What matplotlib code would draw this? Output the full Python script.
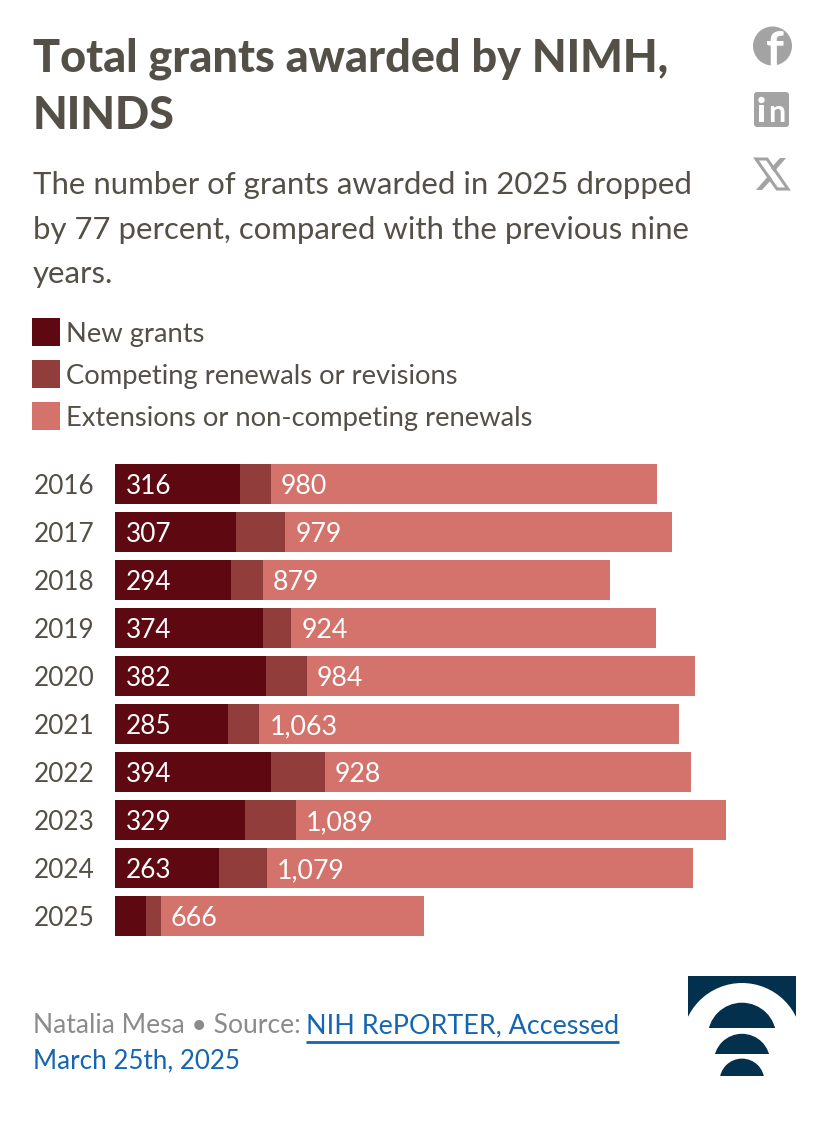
import matplotlib
matplotlib.use("Agg")
import matplotlib.pyplot as plt
from matplotlib.patches import Rectangle, Circle, FancyBboxPatch, Polygon

plt.rcParams['font.family'] = ['Lato', 'DejaVu Sans']

W, H = 828, 1138

years = ["2016", "2017", "2018", "2019", "2020", "2021", "2022", "2023", "2024", "2025"]
new_grants = [316, 307, 294, 374, 382, 285, 394, 329, 263, 78]
competing = [78, 124, 81, 73, 104, 81, 137, 129, 121, 38]
extensions = [980, 979, 879, 924, 984, 1063, 928, 1089, 1079, 666]

series_names = ["New grants", "Competing renewals or revisions", "Extensions or non-competing renewals"]
series_colors = ["#5e0812", "#913d3b", "#d3736b"]

ink = "#544f47"
grey = "#a3a3a3"
navy = "#03304d"
blue = "#1565b0"

fig = plt.figure(figsize=(W / 100, H / 100), dpi=100, facecolor="white")

# bars get their own axes, the rest goes on a pixel overlay
ax = fig.add_axes([115 / W, 1 - 940 / H, 700 / W, 480 / H])
left = [0] * len(years)
for vals, col in zip([new_grants, competing, extensions], series_colors):
    ax.barh(years, vals, left=left, height=40 / 48, color=col, linewidth=0)
    left = [a + b for a, b in zip(left, vals)]

ax.set_xlim(0, 700 / 0.3948)
ax.set_ylim(9.5, -0.5)
ax.axis("off")

for i, year in enumerate(years):
    ax.annotate(year, (0, i), xytext=(-81, 0), textcoords="offset pixels", ha="left", va="center_baseline",
                fontsize=18.8, color=ink)
    if new_grants[i] > 100:
        ax.annotate(str(new_grants[i]), (0, i), xytext=(11, 0), textcoords="offset pixels", ha="left",
                    va="center_baseline", fontsize=18.8, color="white")
    ax.annotate(f"{extensions[i]:,}", (new_grants[i] + competing[i], i), xytext=(10, 0), textcoords="offset pixels",
                ha="left", va="center_baseline", fontsize=19.3, color="white")

ov = fig.add_axes([0, 0, 1, 1], facecolor="none")
ov.set_xlim(0, W)
ov.set_ylim(H, 0)
ov.axis("off")

ov.text(33, 71, "Total grants awarded by NIMH,", fontsize=32.4, fontweight="black", color=ink, va="baseline")
ov.text(33, 129, "NINDS", fontsize=32.4, fontweight="black", color=ink, va="baseline")

for y, line in zip([194, 239, 283], ["The number of grants awarded in 2025 dropped",
                                     "by 77 percent, compared with the previous nine", "years."]):
    ov.text(33, y, line, fontsize=22.4, color=ink, va="baseline")

for y, name, col in zip([318, 360, 402], series_names, series_colors):
    ov.add_patch(Rectangle((32, y), 28, 28, color=col, linewidth=0))
    ov.text(66, y + 24, name, fontsize=19.75, color=ink, va="baseline")

# footer
ov.text(33, 1033, "Natalia Mesa • Source:", fontsize=19.1, color="#8b8b8b", va="baseline")
ov.text(306, 1033, "NIH RePORTER, Accessed", fontsize=19.35, color=blue, va="baseline")
ov.text(33, 1068, "March 25th, 2025", fontsize=18.7, color=blue, va="baseline")
ov.plot([306, 619], [1041.5, 1041.5], color=blue, lw=2, solid_capstyle="butt")

# social icons
fb = Circle((772.5, 46), 19.5, color=grey, linewidth=0)
ov.add_patch(fb)
f = ov.text(775, 67, "f", fontsize=36, fontweight="bold", color="white", ha="center", va="baseline")
f.set_clip_path(fb)
ov.add_patch(FancyBboxPatch((754, 92), 35, 35, boxstyle="round,pad=0,rounding_size=3", color=grey, linewidth=0))
ov.add_patch(Circle((761.5, 100), 3.2, color="white", linewidth=0))
ov.add_patch(Rectangle((759, 105), 5.5, 17, color="white", linewidth=0))
ov.text(776.5, 122, "n", fontsize=22, fontweight="bold", color="white", ha="center", va="baseline")
ov.add_patch(Polygon([(756, 159), (767, 159), (788, 189), (777, 189)], closed=True, facecolor="white",
                     edgecolor=grey, linewidth=2.2))
ov.add_patch(Polygon([(786, 158), (774, 172), (771, 168), (780, 158)], closed=True, facecolor=grey, linewidth=0))
ov.add_patch(Polygon([(756, 190), (769, 175), (772, 179), (762, 190)], closed=True, facecolor=grey, linewidth=0))

# logo
ov.add_patch(Rectangle((688, 976), 108, 42, color=navy, linewidth=0))
ov.add_patch(Circle((742, 1043), 60, color="white", linewidth=0, zorder=2))
for cy, r, bottom in [(1037, 34.3, 1028), (1062, 28.2, 1054), (1081, 22.4, 1076)]:
    clip = Rectangle((680, 960), 130, bottom - 960, transform=ov.transData)
    c = Circle((742, cy), r, color=navy, linewidth=0, zorder=3)
    ov.add_patch(c)
    c.set_clip_path(clip)

fig.savefig("out.png", dpi=100)
